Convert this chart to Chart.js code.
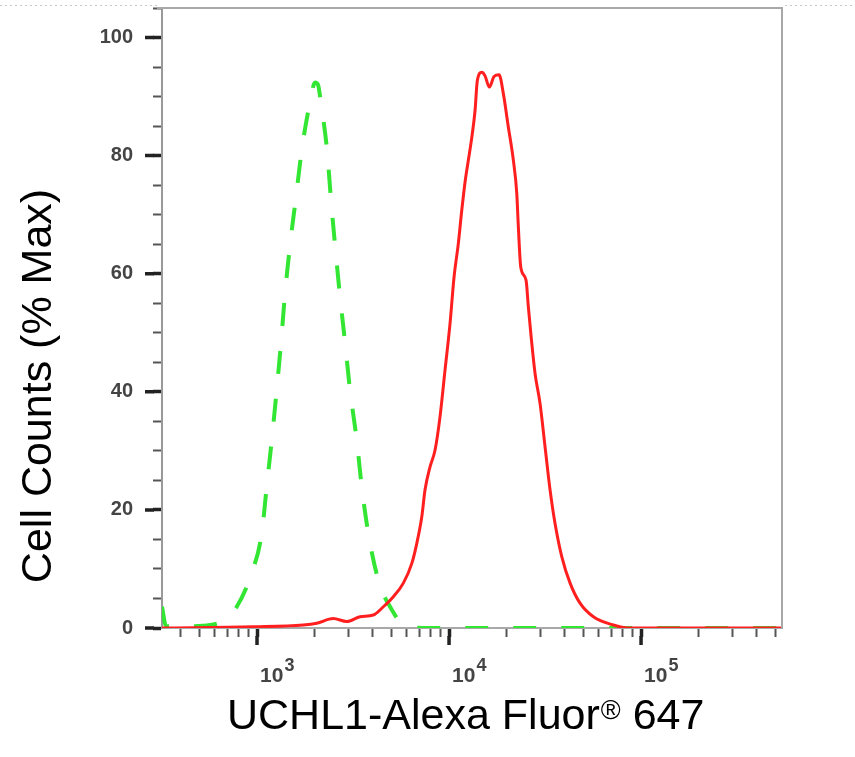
<!DOCTYPE html>
<html>
<head>
<meta charset="utf-8">
<script src="https://cdn.jsdelivr.net/npm/chart.js@4.4.0/dist/chart.umd.min.js"></script>
<style>
  html, body { margin: 0; padding: 0; background: #fff; }
  #wrap { width: 855px; height: 757px; position: relative; }
</style>
</head>
<body>
<div id="wrap"><canvas id="histChart"></canvas></div>
<script>
// values: intensity (x) and % of max (y)
const isotypeX = [320, 336, 448, 569, 655, 784, 938, 1058, 1123, 1193, 1266, 1334, 1399, 1485, 1596, 1709, 1888, 2005,
  2078, 2154, 2316, 2429, 2563, 2706, 2873, 3050, 3306, 3511, 3800, 4283, 4929, 6023, 7962, 20000, 100000, 542000];
const isotypeY = [3.6, 0.3, 0.3, 0.5, 1.1, 3.6, 9.3, 16.0, 23.9, 31.8, 40.3, 48.4, 56.6, 64.8, 73.0, 80.9, 89.1, 92.4,
  92.0, 88.8, 80.9, 72.4, 64.0, 56.1, 48.4, 40.3, 31.8, 23.9, 16.0, 8.1, 3.6, 0.2, 0, 0, 0, 0];

const uchl1X = [320, 956, 1742, 2046, 2495, 2932, 3440, 4034, 4549, 5128, 5781, 6393, 6789, 7209, 7499, 7962, 8453,
  8977, 9532, 10116, 10617, 11177, 11645, 12115, 12603, 13127, 13656, 14039, 14803, 15399, 16215, 17155, 18215,
  19180, 20370, 21630, 22529, 22963, 23635, 25177, 25882, 26730, 28050, 29790, 31623, 33580, 35650, 38640, 42700,
  48110, 56460, 71730, 85500, 542000];
const uchl1Y = [0, 0.2, 0.5, 0.8, 1.6, 1.1, 1.9, 2.2, 3.6, 5.3, 7.6, 10.9, 14.3, 18.8, 23.4, 27.3, 30.1,
  35.8, 43.7, 51.5, 59.4, 65.1, 70.7, 75.5, 79.2, 83.0, 87.6, 92.7, 94.1, 93.5, 91.6, 93.4, 93.7,
  90.5, 84.8, 79.2, 73.6, 67.9, 61.1, 58.9, 54.4, 49.5, 43.1, 38.0, 30.7, 23.4, 17.7, 12.1, 7.6,
  4.2, 1.9, 0.5, 0, 0];

// axis ticks
const decadeTicks = [1000, 10000, 100000];
const decadeExponents = ['3', '4', '5'];
const minorTicks = [400, 500, 600, 700, 800, 900, 2000, 3000, 4000, 5000, 6000, 7000, 8000, 9000,
  20000, 30000, 40000, 50000, 60000, 70000, 80000, 90000, 200000, 300000, 400000, 500000];
const yMajorTicks = [0, 20, 40, 60, 80, 100];

const xTitle = ['UCHL1-Alexa Fluor', '\u00AE', ' 647'];
const yTitle = 'Cell Counts (% Max)';

const FONT = '"Liberation Sans", Arial, sans-serif';

const toPoints = (xs, ys) => xs.map((v, i) => ({ x: v, y: ys[i] }));

const frameAndLabels = {
  id: 'frameAndLabels',
  afterDraw(chart) {
    const { ctx, chartArea: a, scales: { x, y } } = chart;
    ctx.save();

    // faint dotted screenshot edge
    ctx.strokeStyle = '#c8c8c8';
    ctx.lineWidth = 1;
    ctx.setLineDash([2, 3]);
    ctx.beginPath();
    ctx.moveTo(0, 5.5); ctx.lineTo(a.left - 5, 5.5);
    ctx.moveTo(a.right + 3, 5.5); ctx.lineTo(chart.width, 5.5);
    ctx.stroke();
    ctx.setLineDash([]);

    // top and right frame
    ctx.strokeStyle = '#a8a8a8';
    ctx.lineWidth = 2;
    ctx.beginPath();
    ctx.moveTo(a.left - 5, a.top);
    ctx.lineTo(a.right, a.top);
    ctx.lineTo(a.right, a.bottom);
    ctx.stroke();

    // long major ticks
    ctx.strokeStyle = '#222';
    ctx.lineWidth = 3.5;
    ctx.beginPath();
    yMajorTicks.forEach(v => {
      const py = y.getPixelForValue(v);
      ctx.moveTo(a.left - 17, py); ctx.lineTo(a.left - 8, py);
    });
    decadeTicks.forEach(v => {
      const px = x.getPixelForValue(v);
      ctx.moveTo(px, a.bottom + 8); ctx.lineTo(px, a.bottom + 17);
    });
    ctx.stroke();

    // decade labels with superscript exponent
    ctx.fillStyle = '#444';
    ctx.textAlign = 'left';
    ctx.textBaseline = 'alphabetic';
    decadeTicks.forEach((v, i) => {
      const px = x.getPixelForValue(v) + 3;
      ctx.font = 'bold 21px ' + FONT;
      ctx.fillText('10', px, a.bottom + 54);
      const w = ctx.measureText('10').width;
      ctx.font = 'bold 18px ' + FONT;
      ctx.fillText(decadeExponents[i], px + w + 1, a.bottom + 43);
    });

    // x axis title
    ctx.fillStyle = '#000';
    let tx = a.left + 65;
    const base = a.bottom + 101;
    ctx.font = '43px ' + FONT;
    ctx.fillText(xTitle[0], tx, base);
    tx += ctx.measureText(xTitle[0]).width + 1;
    ctx.font = '27px ' + FONT;
    ctx.fillText(xTitle[1], tx, base - 10);
    tx += ctx.measureText(xTitle[1]).width;
    ctx.font = '43px ' + FONT;
    ctx.fillText(xTitle[2], tx, base);

    // y axis title
    ctx.translate(a.left - 111, a.top + 378);
    ctx.rotate(-Math.PI / 2);
    ctx.textAlign = 'center';
    ctx.font = '43px ' + FONT;
    ctx.fillText(yTitle, 0, 0);

    ctx.restore();
  }
};

const allXTicks = decadeTicks.concat(minorTicks).sort((p, q) => p - q);

new Chart(document.getElementById('histChart'), {
  type: 'line',
  data: {
    datasets: [
      {
        label: 'UCHL1',
        data: toPoints(uchl1X, uchl1Y),
        borderColor: '#ff1f1f',
        borderWidth: 3,
        pointRadius: 0,
        cubicInterpolationMode: 'monotone',
        fill: false
      },
      {
        label: 'Isotype',
        data: toPoints(isotypeX, isotypeY),
        borderColor: '#33e633',
        borderWidth: 4,
        borderDash: [23, 25],
        pointRadius: 0,
        cubicInterpolationMode: 'monotone',
        fill: false
      }
    ]
  },
  options: {
    responsive: true,
    maintainAspectRatio: false,
    animation: false,
    layout: { padding: { left: 0, top: 8, right: 73, bottom: 0 } },
    plugins: { legend: { display: false }, tooltip: { enabled: false } },
    scales: {
      x: {
        type: 'logarithmic',
        min: 320,
        max: 542000,
        afterBuildTicks: scale => {
          scale.ticks = allXTicks.map(v => ({ value: v, major: decadeTicks.includes(v) }));
        },
        afterFit: scale => {
          scale.height = 129;
          scale.paddingLeft = 0;
          scale.paddingRight = 0;
        },
        border: { color: '#a8a8a8', width: 2 },
        grid: {
          drawOnChartArea: false,
          tickLength: 9,
          tickColor: ctx => ctx.tick && decadeTicks.includes(ctx.tick.value) ? '#222' : '#555',
          tickWidth: ctx => ctx.tick && decadeTicks.includes(ctx.tick.value) ? 3.5 : 2
        },
        ticks: { autoSkip: false, callback: () => '' }
      },
      y: {
        min: 0,
        max: 105,
        afterFit: scale => {
          scale.width = 162;
          scale.paddingTop = 0;
          scale.paddingBottom = 0;
        },
        border: { color: '#999', width: 2 },
        grid: {
          drawOnChartArea: false,
          tickLength: 9,
          tickColor: ctx => ctx.tick && ctx.tick.value % 20 === 0 ? '#222' : '#555',
          tickWidth: ctx => ctx.tick && ctx.tick.value % 20 === 0 ? 3.5 : 2
        },
        ticks: {
          stepSize: 5,
          autoSkip: false,
          padding: 20,
          color: '#444',
          font: { family: FONT, size: 20, weight: 'bold' },
          callback: v => (v % 20 === 0 ? String(v) : '')
        }
      }
    }
  },
  plugins: [frameAndLabels]
});
</script>
</body>
</html>
